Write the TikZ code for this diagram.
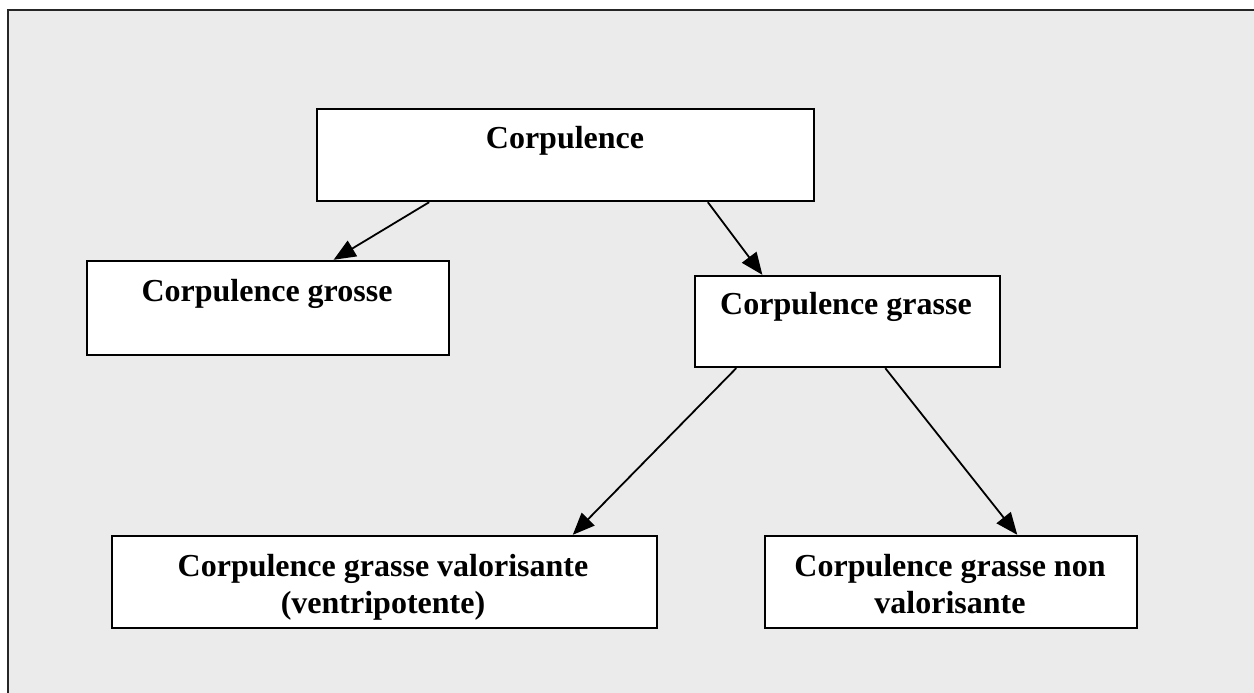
\documentclass[tikz,border=0pt]{standalone}
\usepackage{fontspec}
\setmainfont{Liberation Serif}
\usetikzlibrary{arrows.meta,calc}
\definecolor{paper}{HTML}{EBEBEB}
\tikzset{
  box/.style={draw=black, line width=2.4pt, fill=white, rectangle, inner sep=0pt},
  lbl/.style={font=\bfseries\fontsize{32}{37}\selectfont, align=center, inner sep=0pt, anchor=base},
  conn/.style={line width=1.8pt, -{Triangle[length=22pt,width=18pt]}, shorten >=0pt},
}
\begin{document}
\begin{tikzpicture}[x=1pt,y=-1pt]
\useasboundingbox (0,0) rectangle (1254,693);
\fill[white] (0,0) rectangle (1254,693);
\fill[paper] (8,10) rectangle (1254,693);
\draw[line width=2.4pt, black!85] (1254,10) -- (8,10) -- (8,693);

\node[box, minimum width=497pt, minimum height=92pt] (c) at (565.5,155) {};
\node[box, minimum width=362pt, minimum height=94pt] (g) at (268,308) {};
\node[box, minimum width=305pt, minimum height=91pt] (gr) at (847.5,321.5) {};
\node[box, minimum width=545pt, minimum height=92pt] (v) at (384.5,582) {};
\node[box, minimum width=372pt, minimum height=92pt] (nv) at (951,582) {};

\node[lbl] (tc) at (565,148) {Corpulence};
\node[lbl] (tg) at (267,301) {Corpulence grosse};
\node[lbl] (tgr) at (846,314) {Corpulence grasse};
\node[lbl] (tv) at (383,613) {Corpulence grasse valorisante\\(ventripotente)};
\node[lbl] (tnv) at (950,613) {Corpulence grasse non\\valorisante};

\draw[conn] ($(c.south west)!0.227!(c.south east)$) -- ($(g.north west)!0.68!(g.north east)$);
\draw[conn] ($(c.south west)!0.785!(c.south east)$) -- ($(gr.north west)!0.223!(gr.north east)$);
\draw[conn] ($(gr.south west)!0.138!(gr.south east)$) -- ($(v.north west)!0.844!(v.north east)$);
\draw[conn] ($(gr.south west)!0.623!(gr.south east)$) -- ($(nv.north west)!0.677!(nv.north east)$);
\end{tikzpicture}
\end{document}
